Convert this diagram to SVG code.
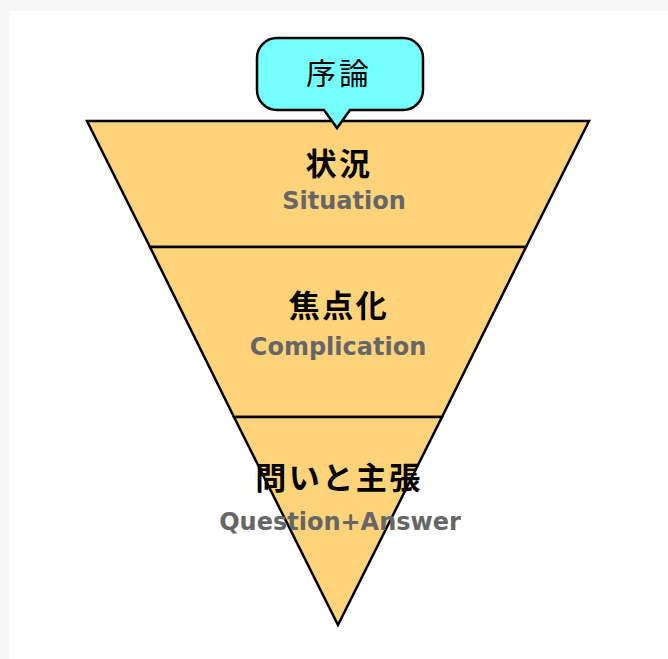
<svg xmlns="http://www.w3.org/2000/svg" width="668" height="659" viewBox="0 0 668 659">
<style>
.seg{fill:#FFD37A;stroke:#000;stroke-width:2.5;stroke-linejoin:miter}
.jp{font-family:"Noto Sans CJK JP","Noto Sans CJK SC",sans-serif;font-weight:bold;font-size:31px;fill:#000;text-anchor:middle;letter-spacing:2.5px}
.en{font-family:"DejaVu Sans",Verdana,sans-serif;font-weight:bold;font-size:24px;fill:#666;text-anchor:middle}
</style>
<rect x="0" y="0" width="668" height="659" fill="#f7f7f7"/>
<rect x="9" y="11" width="659" height="648" fill="#ffffff"/>
<g id="funnel">
<g id="situation">
<polygon class="seg" points="87,121 589,121 526,247 150,247"/>
<text class="jp" x="339" y="175">状況</text>
<text class="en" x="344" y="209">Situation</text>
</g>
<g id="complication">
<polygon class="seg" points="150,247 526,247 442,417 234,417"/>
<text class="jp" x="339" y="317">焦点化</text>
<text class="en" x="338" y="355">Complication</text>
</g>
<g id="question">
<polygon class="seg" points="234,417 442,417 338,625"/>
<text class="jp" x="339" y="489">問いと主張</text>
<text class="en" x="340" y="530">Question+Answer</text>
</g>
</g>
<g id="intro">
<path d="M277,38 H403 A20,20 0 0 1 423,58 V90 A20,20 0 0 1 403,110 H350 L337,128 L324,110 H277 A20,20 0 0 1 257,90 V58 A20,20 0 0 1 277,38 Z" fill="#75FFFF" stroke="#000" stroke-width="2.5" stroke-linejoin="miter"/>
<text x="339" y="84" font-family="'Noto Sans CJK JP','Noto Sans CJK SC',sans-serif" font-size="30" text-anchor="middle" letter-spacing="3" fill="#000">序論</text>
</g>
<g id="connectors"/>
</svg>
